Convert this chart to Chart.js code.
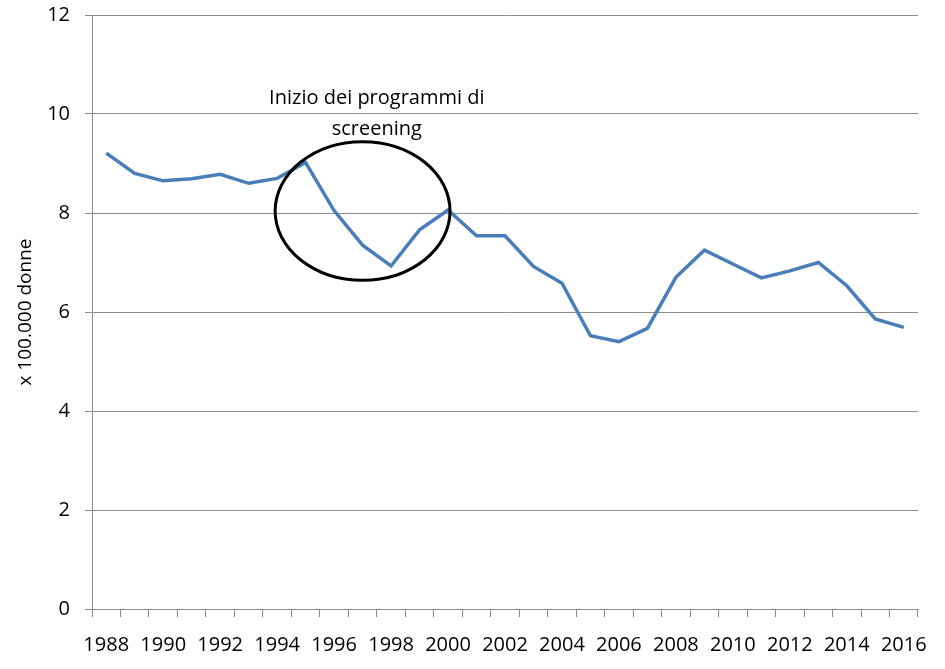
<!DOCTYPE html>
<html>
<head>
<meta charset="utf-8">
<script src="https://cdn.jsdelivr.net/npm/chart.js@4.4.1/dist/chart.umd.min.js"></script>
<style>
  html, body { margin: 0; padding: 0; background: #ffffff; }
  #wrap { width: 945px; height: 669px; }
</style>
</head>
<body>
<div id="wrap"><canvas id="c" width="945" height="669"></canvas></div>
<script>
const years = ['1988','1989','1990','1991','1992','1993','1994','1995','1996','1997','1998','1999','2000','2001','2002','2003','2004','2005','2006','2007','2008','2009','2010','2011','2012','2013','2014','2015','2016'];
const rates = [9.21, 8.80, 8.65, 8.69, 8.78, 8.60, 8.70, 9.02, 8.05, 7.35, 6.93, 7.66, 8.06, 7.54, 7.54, 6.92, 6.58, 5.52, 5.40, 5.67, 6.70, 7.25, 6.97, 6.69, 6.83, 7.00, 6.53, 5.86, 5.69];
const yTicks = [0, 2, 4, 6, 8, 10, 12];
const yTitle = 'x 100.000 donne';
const noteLines = ['Inizio dei programmi di', 'screening'];

const FONT = '"Open Sans", "DejaVu Sans", sans-serif';
const GRAY = '#8c8c8c';

const annotationPlugin = {
  id: 'screeningNote',
  afterDatasetsDraw(chart) {
    const ctx = chart.ctx;
    const xs = chart.scales.x, ys = chart.scales.y;
    const cx = xs.getPixelForValue(9);
    const cy = ys.getPixelForValue(8.04);
    const rx = Math.abs(xs.getPixelForValue(9 + 3.07) - cx);
    const ry = Math.abs(ys.getPixelForValue(8.04 + 1.4) - cy);
    ctx.save();
    ctx.beginPath();
    ctx.ellipse(cx, cy, rx, ry, 0, 0, Math.PI * 2);
    ctx.lineWidth = 3;
    ctx.strokeStyle = '#000000';
    ctx.stroke();
    ctx.fillStyle = '#000000';
    ctx.font = '20px ' + FONT;
    ctx.textAlign = 'center';
    ctx.textBaseline = 'middle';
    const tx = xs.getPixelForValue(9.5);
    ctx.fillText(noteLines[0], tx, ys.getPixelForValue(10.32));
    ctx.fillText(noteLines[1], tx, ys.getPixelForValue(9.70));
    ctx.restore();
  }
};

new Chart(document.getElementById('c'), {
  type: 'line',
  data: {
    labels: years,
    datasets: [{
      data: rates,
      borderColor: '#4a7ebb',
      borderWidth: 3.5,
      pointRadius: 0,
      tension: 0,
      fill: false
    }]
  },
  options: {
    responsive: false,
    animation: false,
    devicePixelRatio: 1,
    layout: { padding: { top: 15, right: 27, left: 0, bottom: 0 } },
    plugins: { legend: { display: false }, tooltip: { enabled: false } },
    scales: {
      x: {
        type: 'category',
        offset: true,
        grid: {
          offset: true,
          drawOnChartArea: false,
          drawTicks: true,
          tickLength: 8,
          color: GRAY,
          lineWidth: 1
        },
        border: { display: true, color: GRAY, width: 1 },
        ticks: {
          autoSkip: false,
          maxRotation: 0,
          minRotation: 0,
          padding: 16,
          color: '#000000',
          font: { family: FONT, size: 20 },
          callback: function(v, i) { return i % 2 === 0 ? years[i] : ''; }
        },
        afterFit(scale) { scale.height = 60; }
      },
      y: {
        min: 0,
        max: 12,
        afterBuildTicks(scale) { scale.ticks = yTicks.map(v => ({ value: v })); },
        grid: {
          color: GRAY,
          lineWidth: 1,
          drawTicks: true,
          tickLength: 7
        },
        border: { display: true, color: GRAY, width: 1 },
        ticks: {
          padding: 15,
          color: '#000000',
          font: { family: FONT, size: 20 }
        },
        title: {
          display: true,
          text: yTitle,
          color: '#000000',
          font: { family: FONT, size: 19 },
          padding: { top: 14, bottom: 0 }
        },
        afterFit(scale) {
          scale.width = 92;
          scale.paddingTop = 0;
          scale.paddingBottom = 0;
        }
      }
    }
  },
  plugins: [annotationPlugin]
});
</script>
</body>
</html>
